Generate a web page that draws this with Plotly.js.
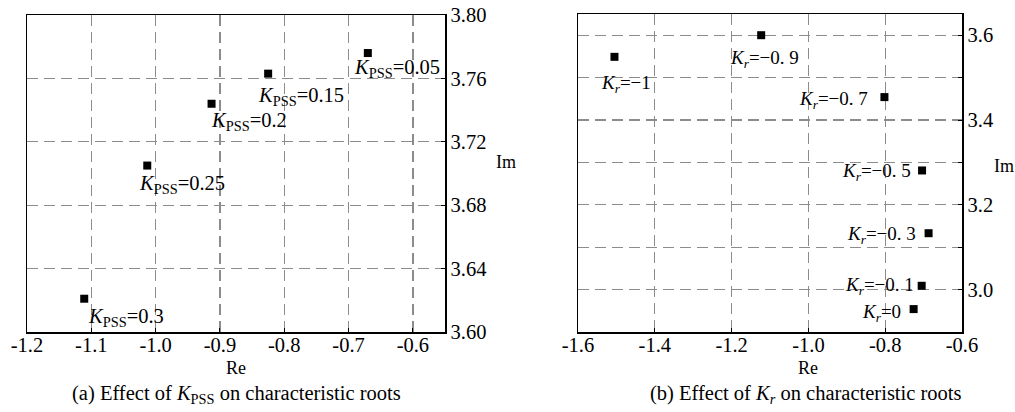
<!DOCTYPE html>
<html>
<head>
<meta charset="utf-8">
<script src="https://cdn.plot.ly/plotly-3.0.1.min.js"></script>
<style>html,body{margin:0;padding:0;background:#fff;}#chart{width:1015px;height:412px;}</style>
</head>
<body>
<div id="chart"></div>
<script>
// Panel (a): effect of K_PSS
const kpssLabels = ["0.05", "0.15", "0.2", "0.25", "0.3"];
const kpssRe = [-0.670, -0.825, -0.913, -1.013, -1.111];
const kpssIm = [3.776, 3.763, 3.744, 3.705, 3.621];

// Panel (b): effect of K_r
const krLabels = ["−1", "−0. 9", "−0. 7", "−0. 5", "−0. 3", "−0. 1", "0"];
const krRe = [-1.505, -1.123, -0.802, -0.704, -0.687, -0.705, -0.726];
const krIm = [3.549, 3.600, 3.454, 3.281, 3.133, 3.009, 2.954];

// label placement (pixel offsets, style only)
const kpssOffsets = [[-16, -15], [-12, -23], [-3, -18], [-10, -19], [2, -19]];
const krOffsets = [
  ["left", -15, -27], ["left", -33, -24], ["right", -14, -3], ["right", -9, -2],
  ["right", -11, -2], ["right", -6, 0], ["right", -11, -4]
];

const FONT = "Liberation Serif";
const gridStyle = {
  showgrid: true, gridcolor: "#8c8c8c", gridwidth: 1.3, griddash: "11px,6px",
  showline: true, linecolor: "#000", linewidth: 1.5, mirror: true,
  zeroline: false, ticks: "inside", ticklen: 4, tickcolor: "#000",
  tickfont: {family: FONT, size: 20.5, color: "#000"}
};

const traces = [
  {x: kpssRe, y: kpssIm, xaxis: "x", yaxis: "y", mode: "markers", type: "scatter",
   marker: {symbol: "square", size: 8, color: "#000"}, cliponaxis: false},
  {x: krRe, y: krIm, xaxis: "x2", yaxis: "y2", mode: "markers", type: "scatter",
   marker: {symbol: "square", size: 8, color: "#000"}, cliponaxis: false}
];

const annotations = [];
kpssLabels.forEach((lab, i) => {
  annotations.push({
    x: kpssRe[i], y: kpssIm[i], xref: "x", yref: "y", showarrow: false,
    text: "<i>K</i><sub>PSS</sub>=" + lab, xanchor: "left", yanchor: "middle",
    xshift: kpssOffsets[i][0], yshift: kpssOffsets[i][1],
    font: {family: FONT, size: 20.5, color: "#000"}
  });
});
krLabels.forEach((lab, i) => {
  annotations.push({
    x: krRe[i], y: krIm[i], xref: "x2", yref: "y2", showarrow: false,
    text: "<i>K<sub>r</sub></i>=" + lab, xanchor: krOffsets[i][0], yanchor: "middle",
    xshift: krOffsets[i][1], yshift: krOffsets[i][2],
    font: {family: FONT, size: 19, color: "#000"}
  });
});
const textAnn = (t, x, y, size) => ({
  text: t, x: x, y: y, xref: "paper", yref: "paper", showarrow: false,
  xanchor: "center", yanchor: "middle", font: {family: FONT, size: size, color: "#000"}
});
annotations.push(textAnn("Re", 236 / 1015, 1 - 368 / 412, 18));
annotations.push(textAnn("Re", 808 / 1015, 1 - 368 / 412, 18));
annotations.push(textAnn("Im", 506 / 1015, 1 - 162 / 412, 18));
annotations.push(textAnn("Im", 1004 / 1015, 1 - 166 / 412, 18));
annotations.push(textAnn("(a) Effect of <i>K</i><sub>PSS</sub> on characteristic roots", 236 / 1015, 1 - 394 / 412, 20.5));
annotations.push(textAnn("(b) Effect of <i>K<sub>r</sub></i> on characteristic roots", 805 / 1015, 1 - 394 / 412, 20.5));

const layout = {
  width: 1015, height: 412,
  margin: {l: 0, r: 0, t: 0, b: 0},
  paper_bgcolor: "#fff", plot_bgcolor: "#fff",
  showlegend: false,
  font: {family: FONT, color: "#000"},
  xaxis: Object.assign({}, gridStyle, {
    domain: [27 / 1015, 445 / 1015], range: [-1.2, -0.55], anchor: "y",
    ticklabelstandoff: -6,
    tickvals: [-1.2, -1.1, -1.0, -0.9, -0.8, -0.7, -0.6],
    ticktext: ["-1.2", "-1.1", "-1.0", "-0.9", "-0.8", "-0.7", "-0.6"]
  }),
  yaxis: Object.assign({}, gridStyle, {
    domain: [1 - 332 / 412, 1 - 15 / 412], range: [3.60, 3.80], anchor: "x", side: "right",
    tickvals: [3.60, 3.64, 3.68, 3.72, 3.76, 3.80], tickformat: ".2f"
  }),
  xaxis2: Object.assign({}, gridStyle, {
    domain: [578 / 1015, 962 / 1015], range: [-1.6, -0.6], anchor: "y2",
    ticklabelstandoff: -6,
    tickvals: [-1.6, -1.4, -1.2, -1.0, -0.8, -0.6],
    ticktext: ["-1.6", "-1.4", "-1.2", "-1.0", "-0.8", "-0.6"]
  }),
  yaxis2: Object.assign({}, gridStyle, {
    domain: [1 - 332 / 412, 1 - 14 / 412], range: [2.9, 3.65], anchor: "x2", side: "right",
    tickvals: [3.0, 3.1, 3.2, 3.3, 3.4, 3.5, 3.6],
    ticktext: ["3.0", "", "3.2", "", "3.4", "", "3.6"]
  }),
  annotations: annotations
};

Plotly.newPlot("chart", traces, layout, {displayModeBar: false, staticPlot: true});
</script>
</body>
</html>
